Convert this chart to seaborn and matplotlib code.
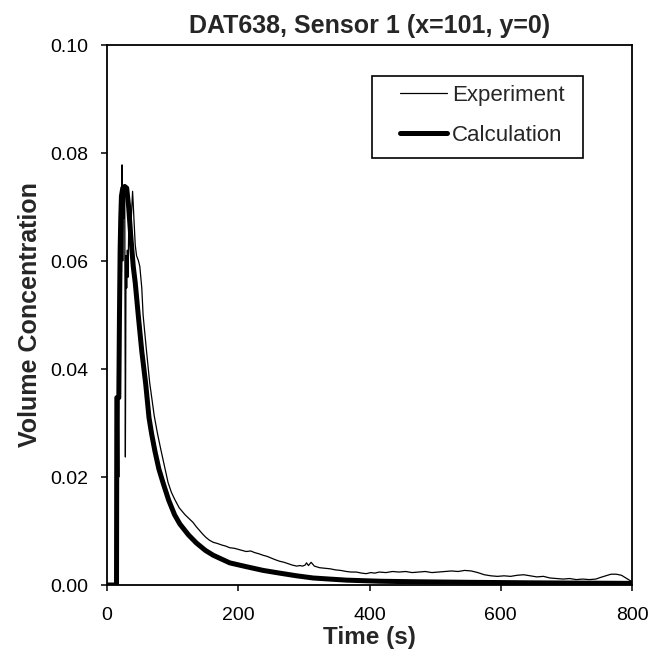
import matplotlib
matplotlib.use("Agg")
import matplotlib.pyplot as plt
from matplotlib.patches import Rectangle
import seaborn as sns
import pandas as pd

# Experiment (thin line)
t_exp = [0, 14, 16, 17, 18, 19, 20, 21, 22, 23, 24, 25, 26, 27, 28, 29, 30, 31, 32, 33,
         35, 37, 39, 41, 43, 45, 48, 50, 53, 55, 60, 65, 72, 77, 82, 88, 93, 98, 103, 110,
         119, 125, 131, 136, 141, 146, 150, 156, 162, 168, 175, 181, 187, 194, 200, 206,
         212, 219, 225, 231, 238, 244, 250, 256, 263, 270, 275, 282, 289, 294, 298, 302,
         304, 307, 311, 316, 324, 332, 340, 348, 356, 365, 372, 380, 388, 395, 402, 408,
         415, 425, 435, 445, 455, 465, 475, 485, 495, 505, 515, 525, 535, 545, 555, 565,
         575, 585, 595, 605, 615, 625, 635, 645, 655, 665, 675, 685, 695, 705, 715, 725,
         735, 745, 752, 760, 768, 776, 784, 792, 800]
c_exp = [0, 0, 0, 0.035, 0.020, 0.055, 0.045, 0.065, 0.058, 0.0778, 0.060, 0.072, 0.068,
         0.074, 0.0237, 0.061, 0.055, 0.062, 0.057, 0.065, 0.070, 0.068, 0.0729, 0.068,
         0.063, 0.061, 0.060, 0.059, 0.055, 0.050, 0.0436, 0.0375, 0.0313, 0.0280, 0.0251,
         0.0218, 0.0190, 0.0172, 0.0159, 0.0143, 0.0130, 0.0123, 0.0116, 0.0108, 0.0101,
         0.0094, 0.0089, 0.0083, 0.0079, 0.0077, 0.0074, 0.0072, 0.0069, 0.0068, 0.0066,
         0.0064, 0.0062, 0.0063, 0.0060, 0.0058, 0.0055, 0.0053, 0.0050, 0.0047, 0.0044,
         0.0042, 0.0040, 0.0037, 0.0035, 0.0036, 0.0035, 0.0037, 0.0041, 0.0036, 0.0042,
         0.0035, 0.0032, 0.0031, 0.0030, 0.0028, 0.0027, 0.0025, 0.0024, 0.0024, 0.0022,
         0.0021, 0.0023, 0.0022, 0.0024, 0.0023, 0.0025, 0.0024, 0.0025, 0.0023, 0.0024,
         0.0025, 0.0023, 0.0024, 0.0025, 0.0026, 0.0025, 0.0027, 0.0026, 0.0023, 0.0019,
         0.0017, 0.0016, 0.0017, 0.0016, 0.0018, 0.0019, 0.0017, 0.0015, 0.0016, 0.0013,
         0.0012, 0.0011, 0.0012, 0.0010, 0.0011, 0.0010, 0.0011, 0.0014, 0.0017, 0.0020,
         0.0020, 0.0018, 0.0012, 0.0006]

# Calculation (thick line)
t_calc = [0, 14.5, 15, 18, 19, 20, 21, 22, 24, 27, 30, 33, 36, 40, 43, 48, 53, 59, 64, 68,
          73, 79, 86, 94, 103, 111, 124, 136, 150, 162, 187, 212, 238, 263, 289, 314, 339,
          365, 415, 470, 550, 650, 800]
c_calc = [0, 0, 0.0347, 0.0347, 0.050, 0.062, 0.068, 0.072, 0.0735, 0.0738, 0.0735, 0.070,
          0.065, 0.059, 0.056, 0.0495, 0.0433, 0.0372, 0.031, 0.028, 0.0248, 0.0215,
          0.0187, 0.0157, 0.0130, 0.0113, 0.0093, 0.0078, 0.0064, 0.0055, 0.0041, 0.0034,
          0.0027, 0.0022, 0.0017, 0.0013, 0.0011, 0.0009, 0.0007, 0.0006, 0.0005, 0.0004,
          0.0003]

df_exp = pd.DataFrame({"t": t_exp, "c": c_exp})
df_calc = pd.DataFrame({"t": t_calc, "c": c_calc})

sns.set_style("ticks")
plt.rcParams["font.family"] = ["Liberation Sans", "DejaVu Sans"]

W, H = 650, 662
fig = plt.figure(figsize=(W / 100, H / 100), dpi=100)
ax = fig.add_axes([107 / W, 1 - 585 / H, 525 / W, 540 / H])

sns.lineplot(data=df_exp, x="t", y="c", ax=ax, color="black", linewidth=0.9,
             estimator=None, sort=False, label="Experiment")
sns.lineplot(data=df_calc, x="t", y="c", ax=ax, color="black", linewidth=3.6,
             estimator=None, sort=False, label="Calculation")

ax.set_xlim(0, 800)
ax.set_ylim(0, 0.10)
ax.set_xticks([0, 200, 400, 600, 800])
yt = [0, 0.02, 0.04, 0.06, 0.08, 0.10]
ax.set_yticks(yt)
ax.set_yticklabels([f"{v:.2f}" for v in yt])

for s in ax.spines.values():
    s.set_visible(True)
    s.set_color("black")
    s.set_linewidth(1.3)
ax.tick_params(direction="out", length=4.5, width=1.1, labelsize=14, colors="black")
ax.tick_params(axis="x", pad=11)
ax.tick_params(axis="y", pad=9)

ax.set_xlabel("Time (s)", fontsize=17.5, fontweight="bold", labelpad=2)
ax.set_ylabel("Volume Concentration", fontsize=18, fontweight="bold", labelpad=6)
ax.set_title("DAT638, Sensor 1 (x=101, y=0)", fontsize=18, fontweight="bold", pad=9)

leg = ax.legend(loc="upper left", bbox_to_anchor=(400 / W, 1 - 85 / H),
                bbox_transform=fig.transFigure, borderaxespad=0, borderpad=0,
                fontsize=16, frameon=False, handlelength=2.1, handletextpad=0.25,
                labelspacing=0.85)
leg.set_zorder(10)

# legend box (Excel style, square corners), drawn under the legend entries
box = Rectangle((372 / W, 1 - 158 / H), 211 / W, 82 / H, transform=fig.transFigure,
                facecolor="white", edgecolor="black", linewidth=1.2, zorder=6,
                clip_on=False)
ax.add_patch(box)

fig.savefig("out.png", dpi=100)
